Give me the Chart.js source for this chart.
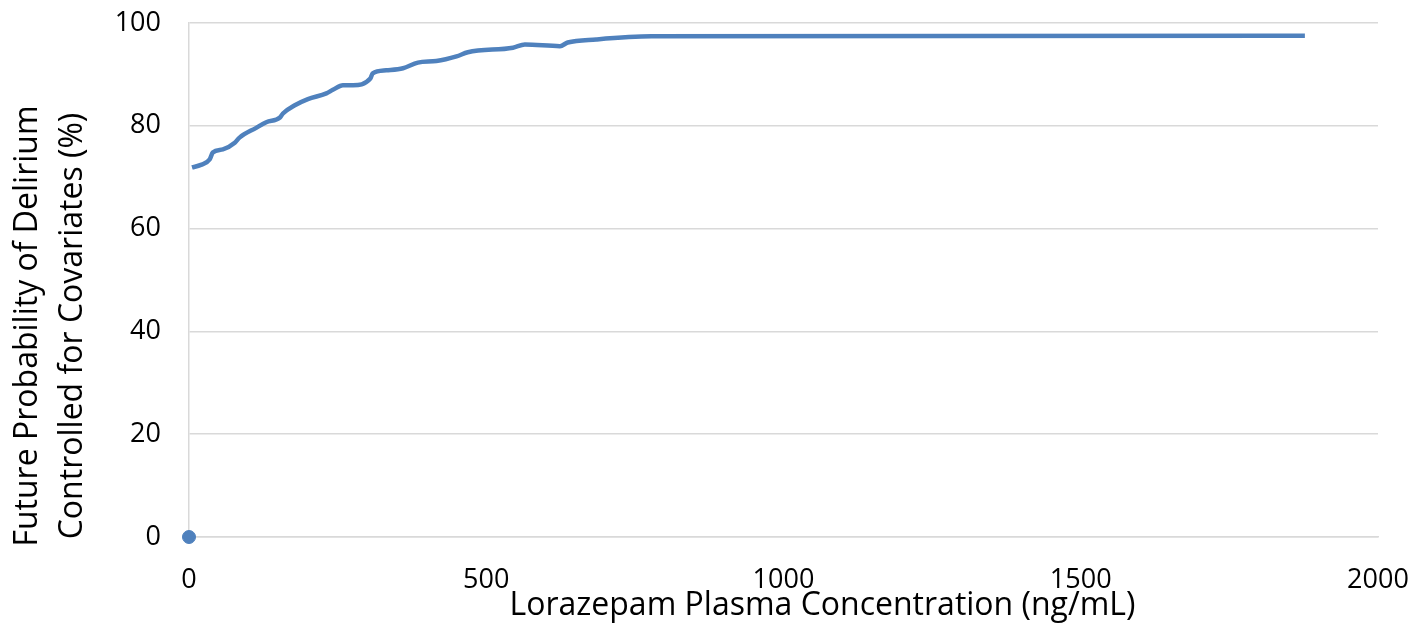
<!DOCTYPE html>
<html>
<head>
<meta charset="utf-8">
<script src="https://cdn.jsdelivr.net/npm/chart.js@4"></script>
<style>
  html, body { margin: 0; padding: 0; background: #fff; }
  #wrap { width: 1413px; height: 624px; }
</style>
</head>
<body>
<div id="wrap"><canvas id="chart"></canvas></div>
<script>
// curve: concentration (ng/mL) vs probability (%)
const concentration = [5, 20, 35, 40, 57, 77, 85, 113, 130, 153, 158, 178, 200, 231, 242, 259, 276, 305, 309, 332, 360, 385, 416, 450, 469, 545, 565, 624, 637, 685, 778, 1877];
const probability = [71.9, 72.4, 73.5, 74.8, 75.4, 76.7, 77.7, 79.6, 80.7, 81.6, 82.4, 84.0, 85.2, 86.3, 87.0, 87.9, 87.9, 89.2, 90.2, 90.8, 91.2, 92.3, 92.6, 93.5, 94.3, 95.2, 95.8, 95.5, 96.2, 96.8, 97.4, 97.5];
const originX = [0];
const originY = [0];
const xTicks = [0, 500, 1000, 1500, 2000];
const yTicks = [0, 20, 40, 60, 80, 100];
const xTitle = 'Lorazepam Plasma Concentration (ng/mL)';
const yTitle = ['Future Probability of Delirium', 'Controlled for Covariates (%)'];

const blue = '#4f81bd';
const grid = '#d9d9d9';
const font = "'Open Sans', sans-serif";

// the titles sit a bit off the plot centre in the original, so draw them here
const axisTitles = {
    id: 'axisTitles',
    afterDraw(chart) {
        const { ctx, chartArea } = chart;
        ctx.save();
        ctx.fillStyle = '#000';
        ctx.font = `32px ${font}`;
        ctx.textAlign = 'center';
        ctx.textBaseline = 'middle';
        ctx.fillText(xTitle, (chartArea.left + chartArea.right) / 2 + 39, chartArea.bottom + 69);
        ctx.translate(0, (chartArea.top + chartArea.bottom) / 2 + 46);
        ctx.rotate(-Math.PI / 2);
        yTitle.forEach((line, i) => ctx.fillText(line, 0, 28 + i * 45));
        ctx.restore();
    }
};

new Chart(document.getElementById('chart'), {
    type: 'scatter',
    data: {
        datasets: [
            {
                data: concentration.map((x, i) => ({ x, y: probability[i] })),
                showLine: true,
                borderColor: blue,
                borderWidth: 4.5,
                pointRadius: 0,
                cubicInterpolationMode: 'monotone'
            },
            {
                data: originX.map((x, i) => ({ x, y: originY[i] })),
                backgroundColor: blue,
                borderColor: blue,
                pointRadius: 6.5,
                clip: false
            }
        ]
    },
    options: {
        responsive: true,
        maintainAspectRatio: false,
        animation: false,
        layout: { padding: { top: 23, right: 35, bottom: 0, left: 0 } },
        plugins: { legend: { display: false }, tooltip: { enabled: false } },
        scales: {
            x: {
                type: 'linear',
                min: 0,
                max: 2000,
                afterBuildTicks: (axis) => { axis.ticks = xTicks.map((value) => ({ value })); },
                afterFit: (axis) => { axis.height = 87; axis.paddingLeft = 0; axis.paddingRight = 0; },
                grid: { display: false, drawTicks: false },
                border: { color: grid, width: 1.5 },
                ticks: { color: '#000', font: { family: font, size: 27 }, padding: 27, maxRotation: 0, callback: (v) => String(v) }
            },
            y: {
                min: 0,
                max: 100,
                afterBuildTicks: (axis) => { axis.ticks = yTicks.map((value) => ({ value })); },
                afterFit: (axis) => { axis.width = 189; axis.paddingTop = 0; axis.paddingBottom = 0; },
                grid: { color: grid, lineWidth: 1.5, drawTicks: false },
                border: { color: grid, width: 1.5 },
                ticks: { color: '#000', font: { family: font, size: 27 }, padding: 28 }
            }
        }
    },
    plugins: [axisTitles]
});
</script>
</body>
</html>
